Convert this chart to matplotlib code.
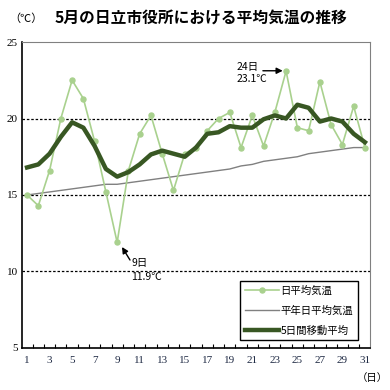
import matplotlib
matplotlib.use("Agg")
import matplotlib.pyplot as plt

plt.rcParams['font.family'] = ['Noto Sans CJK JP', 'DejaVu Sans']

days = list(range(1, 32))
daily = [15.0, 14.3, 16.6, 20.0, 22.5, 21.3, 18.5, 15.2, 11.9, 16.6,
         19.0, 20.2, 17.7, 15.3, 17.7, 18.1, 19.2, 20.0, 20.4, 18.1,
         20.2, 18.2, 20.4, 23.1, 19.4, 19.2, 22.4, 19.6, 18.3, 20.8, 18.1]
normal = [15.0, 15.1, 15.2, 15.3, 15.4, 15.5, 15.6, 15.7, 15.7, 15.8,
          15.9, 16.0, 16.1, 16.2, 16.3, 16.4, 16.5, 16.6, 16.7, 16.9,
          17.0, 17.2, 17.3, 17.4, 17.5, 17.7, 17.8, 17.9, 18.0, 18.1, 18.1]
avg5 = [16.8, 17.0, 17.7, 18.8, 19.75, 19.4, 18.2, 16.7, 16.2, 16.5,
        17.0, 17.65, 17.9, 17.7, 17.5, 18.1, 19.0, 19.1, 19.5, 19.4,
        19.4, 19.95, 20.2, 20.0, 20.9, 20.7, 19.8, 20.0, 19.8, 19.0, 18.45]
xtick_labels = [str(d) for d in range(1, 32, 2)]
yticks = [5, 10, 15, 20, 25]

fig = plt.figure(figsize=(3.9, 3.9), dpi=100)
ax = fig.add_axes([0.0564, 0.1077, 0.8923, 0.7846])

light = '#a9d18e'
dark = '#385723'
ax.plot(days, daily, color=light, lw=1.2, marker='o', ms=3.6, mec=light, mfc=light, zorder=3,
        label='日平均気温')
ax.plot(days, normal, color='#808080', lw=1.0, zorder=2, label='平年日平均気温')
ax.plot(days, avg5, color=dark, lw=3.2, zorder=4, label='5日間移動平均')

ax.set_xlim(0.55, 31.45)
ax.set_ylim(5, 25)
for y in [10, 15, 20]:
    ax.axhline(y, color='black', lw=0.9, ls=(0, (2, 1.5)), zorder=1)

ax.set_yticks(yticks)
ax.set_yticklabels([str(v) for v in yticks], family='Liberation Serif', fontsize=8)
ax.tick_params(axis='y', length=0, pad=3)
ax.set_xticks(range(1, 32, 2))
ax.set_xticklabels(xtick_labels, family='Liberation Serif', fontsize=8, color='#1f2a44')
ax.tick_params(axis='x', length=0, pad=6)
ax.set_xticks([d + 0.5 for d in range(1, 31)], minor=True)
ax.tick_params(axis='x', which='minor', direction='in', length=3, color='black', width=0.8)

for s in ['top', 'right']:
    ax.spines[s].set_color('#808080')
for s in ['left', 'bottom']:
    ax.spines[s].set_color('black')
    ax.spines[s].set_linewidth(1.2)

leg = ax.legend(loc='lower right', bbox_to_anchor=(0.965, 0.025), fontsize=7.5, frameon=True,
                fancybox=False, edgecolor='black', framealpha=1, handlelength=3.3,
                handletextpad=0.1, labelspacing=0.95, borderpad=0.45, borderaxespad=0)
leg.get_frame().set_linewidth(1.0)

# annotation for day 24
ax.text(19.63, 23.37, '24日', fontsize=7.5, va='center', ha='left', zorder=6)
ax.text(19.63, 22.58, '23.1℃', fontsize=7.5, va='center', ha='left', zorder=6)
ax.annotate('', xy=(23.7, 23.12), xytext=(21.94, 23.12),
            arrowprops=dict(arrowstyle='-|>', color='black', lw=1, shrinkA=0, shrinkB=0,
                            mutation_scale=9), zorder=6)
# annotation for day 9
ax.text(10.23, 10.56, '9日', fontsize=7.5, va='center', ha='left', zorder=6)
ax.text(10.23, 9.64, '11.9℃', fontsize=7.5, va='center', ha='left', zorder=6)
ax.annotate('', xy=(9.43, 11.6), xytext=(10.14, 10.75),
            arrowprops=dict(arrowstyle='-|>', color='black', lw=1, shrinkA=0, shrinkB=0,
                            mutation_scale=9), zorder=6)

fig.text(0.025, 0.953, '（℃）', fontsize=8, va='center', ha='left')
fig.text(0.515, 0.953, '5月の日立市役所における平均気温の推移', fontsize=11.3,
         fontweight='bold', va='center', ha='center')
fig.text(0.995, 0.03, '（日）', fontsize=7.5, va='center', ha='right')

fig.savefig('out.png', dpi=100)
